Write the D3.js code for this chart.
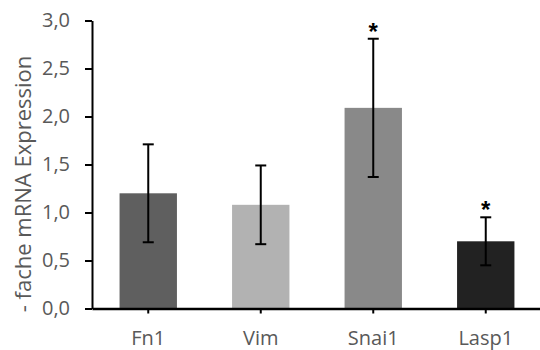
<!DOCTYPE html>
<html lang="de">
<head>
  <meta charset="utf-8">
  <title>mRNA Expression</title>
  <script src="https://cdn.jsdelivr.net/npm/d3@7"></script>
  <style>
    body { margin: 0; background: #fff; }
    svg { display: block; }
    .tick text { font-family: "Open Sans", sans-serif; fill: #595959; }
  </style>
</head>
<body>
  <svg id="chart" width="540" height="350"></svg>
  <script>
    var genes = ['Fn1', 'Vim', 'Snai1', 'Lasp1'];
    var values = [1.20, 1.08, 2.09, 0.70];
    var errors = [0.51, 0.41, 0.72, 0.25];
    var colors = ['#5f5f5f', '#b2b2b2', '#898989', '#222222'];
    var marks = ['', '', '*', '*'];
    var yTicks = [0, 0.5, 1, 1.5, 2, 2.5, 3];

    var svg = d3.select('#chart');
    var plotLeft = 92, plotRight = 542, plotTop = 20.5, plotBottom = 308.5;

    var x = d3.scaleBand().domain(genes).range([plotLeft, plotRight]).paddingInner(0.49).paddingOuter(0.245);
    var y = d3.scaleLinear().domain([0, 3]).range([plotBottom, plotTop]);
    var fmt = d3.format('.1f');

    // bars
    svg.selectAll('rect.bar')
      .data(genes)
      .enter()
      .append('rect')
      .attr('class', 'bar')
      .attr('x', d => x(d))
      .attr('width', x.bandwidth())
      .attr('y', (d, i) => y(values[i]))
      .attr('height', (d, i) => y(0) - y(values[i]))
      .style('fill', (d, i) => colors[i]);

    // error bars
    var eb = svg.append('g').attr('stroke', '#000').attr('stroke-width', 2);
    genes.forEach((g, i) => {
      var cx = x(g) + x.bandwidth() / 2;
      var hi = y(values[i] + errors[i]), lo = y(values[i] - errors[i]);
      eb.append('line').attr('x1', cx).attr('x2', cx).attr('y1', hi).attr('y2', lo);
      eb.append('line').attr('x1', cx - 5.5).attr('x2', cx + 5.5).attr('y1', hi).attr('y2', hi);
      eb.append('line').attr('x1', cx - 5.5).attr('x2', cx + 5.5).attr('y1', lo).attr('y2', lo);
    });

    // significance marks
    svg.selectAll('text.sig')
      .data(genes)
      .enter()
      .append('text')
      .attr('class', 'sig')
      .attr('x', d => x(d) + x.bandwidth() / 2)
      .attr('y', (d, i) => y(values[i] + errors[i]) + 1)
      .attr('text-anchor', 'middle')
      .style('font-family', '"Liberation Sans", sans-serif')
      .style('font-weight', 'bold')
      .style('font-size', '24px')
      .text((d, i) => marks[i]);

    // y axis
    var yAxis = svg.append('g')
      .attr('transform', `translate(${plotLeft},0)`)
      .call(d3.axisLeft(y).tickValues(yTicks).tickFormat(d => fmt(d).replace('.', ',')).tickSize(7).tickSizeOuter(0));
    yAxis.select('.domain').attr('stroke-width', 2);
    yAxis.selectAll('.tick line').attr('stroke-width', 2);
    yAxis.selectAll('.tick text').attr('x', -22).style('font-size', '20px');

    // x axis
    var xAxis = svg.append('g')
      .attr('transform', `translate(0,${plotBottom})`)
      .call(d3.axisBottom(x).tickSize(5).tickSizeOuter(0));
    xAxis.select('.domain').attr('stroke-width', 2.5);
    xAxis.selectAll('.tick line').attr('stroke-width', 2);
    xAxis.selectAll('.tick text').attr('y', 22).style('font-size', '20px');

    // y title
    svg.append('text')
      .attr('transform', 'translate(31,184) rotate(-90)')
      .attr('text-anchor', 'middle')
      .style('font-family', '"Open Sans", sans-serif')
      .style('font-size', '22px')
      .style('fill', '#595959')
      .text('- fache mRNA Expression');
  </script>
</body>
</html>
